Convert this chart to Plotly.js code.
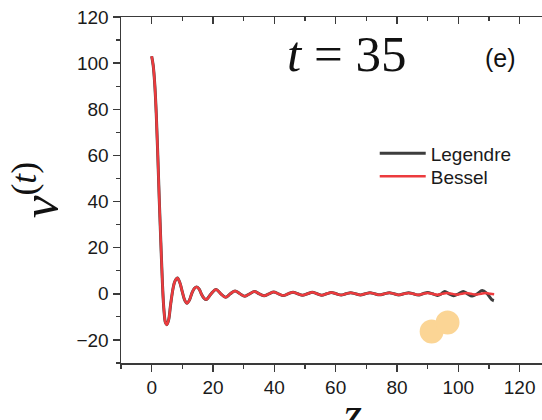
<!DOCTYPE html>
<html>
<head>
<meta charset="utf-8">
<script src="https://cdn.plot.ly/plotly-3.0.1.min.js"></script>
<style>
html,body{margin:0;padding:0;overflow:hidden;background:#fff;}
#chart{width:584px;height:440px;}
</style>
</head>
<body>
<div id="chart"></div>
<script>
// Bessel (red) series
var besselX = [0, 0.5, 1, 1.5, 2, 2.5, 3, 3.5, 4, 4.5, 4.9, 5.5, 6.2, 7.0, 7.6, 8.4, 9.2, 10.0, 10.8, 11.5, 12.3, 13.1, 13.9, 14.7, 15.5, 16.25, 17.0, 17.8, 19.4, 21.0, 22.55, 24.1, 25.65, 27.2, 28.8, 30.4, 31.95, 33.5, 35.1, 36.7, 38.25, 39.8, 41.35, 42.9, 44.5, 46.1, 47.65, 49.2, 50.8, 52.4, 53.95, 55.5, 57.05, 58.6, 60.2, 61.8, 63.35, 64.9, 66.5, 68.1, 69.65, 71.2, 72.75, 74.3, 75.9, 77.5, 79.05, 80.6, 82.2, 83.8, 85.35, 86.9, 88.45, 90.0, 91.6, 93.2, 94.75, 96.3, 97.9, 99.5, 101.05, 102.6, 104.15, 105.7, 107.3, 108.9, 110.45, 111.7];
var besselY = [103, 99, 91, 78, 60, 40, 22, 5, -7, -12.5, -13.4, -11.5, -4.5, 2.5, 5.5, 6.8, 4.8, 0.8, -2.8, -4.1, -2.8, 0.2, 2.3, 3.0, 2.0, -0.2, -1.8, -2.5, 0, 1.9, 0, -1.5, 0, 1.25, 0, -1.05, 0, 0.95, 0, -0.85, 0, 0.8, 0, -0.75, 0, 0.7, 0, -0.65, 0, 0.62, 0, -0.6, 0, 0.55, 0, -0.55, 0, 0.5, 0, -0.5, 0, 0.45, 0, -0.45, 0, 0.42, 0, -0.42, 0, 0.4, 0, -0.4, 0, 0.38, 0, -0.38, 0, 0.36, 0, -0.36, 0, 0.35, 0, -0.35, 0, 0.33, 0, -0.2];

// Legendre (dark) series
var legendreX = [0, 0.5, 1, 1.5, 2, 2.5, 3, 3.5, 4, 4.5, 4.9, 5.5, 6.2, 7.0, 7.6, 8.4, 9.2, 10.0, 10.8, 11.5, 12.3, 13.1, 13.9, 14.7, 15.5, 16.25, 17.0, 17.8, 19.4, 21.0, 22.55, 24.1, 25.65, 27.2, 28.8, 30.4, 31.95, 33.5, 35.1, 36.7, 38.25, 39.8, 41.35, 42.9, 44.5, 46.1, 47.65, 49.2, 50.8, 52.4, 53.95, 55.5, 57.05, 58.6, 60.2, 61.8, 63.35, 64.9, 66.5, 68.1, 69.65, 71.2, 72.75, 74.3, 75.9, 77.5, 79.05, 80.6, 82.2, 83.8, 85.35, 86.9, 88.45, 90.0, 91.6, 93.2, 94.5, 95.6, 97.0, 98.5, 100.1, 101.6, 103.0, 104.5, 106.2, 107.8, 109.3, 110.3, 111.0, 111.6];
var legendreY = [103, 99, 91, 78, 60, 40, 22, 5, -7, -12.5, -13.4, -11.5, -4.5, 2.5, 5.5, 6.8, 4.8, 0.8, -2.8, -4.1, -2.8, 0.2, 2.3, 3.0, 2.0, -0.2, -1.8, -2.5, 0, 1.9, 0, -1.5, 0, 1.25, 0, -1.05, 0, 0.95, 0, -0.85, 0, 0.8, 0, -0.75, 0, 0.7, 0, -0.65, 0, 0.62, 0, -0.6, 0, 0.55, 0, -0.55, 0, 0.5, 0, -0.5, 0, 0.45, 0, -0.45, 0, 0.45, 0, -0.5, 0, 0.5, 0, -0.55, 0, 0.6, 0, -0.7, 0, 1.0, 0, -0.8, 0, 1.0, 0, -1.0, 0, 1.4, 0.2, -1.5, -2.6, -3.0];

var seriesNames = ["Legendre", "Bessel"];
var xTicks = [0, 20, 40, 60, 80, 100, 120, 140];
var yTicks = [-20, 0, 20, 40, 60, 80, 100, 120];

var axisColor = "#3a3a3a";
var tickFont = {family: "Liberation Sans, Arial, sans-serif", size: 19, color: "#1a1a1a"};
var legendFont = {family: "Liberation Sans, Arial, sans-serif", size: 19, color: "#1a1a1a"};

var traces = [
  {x: legendreX, y: legendreY, name: seriesNames[0], type: "scatter", mode: "lines", legend: "legend",
   line: {color: "#3d3d3d", width: 3, shape: "spline", smoothing: 1}},
  {x: besselX, y: besselY, name: seriesNames[1], type: "scatter", mode: "lines", legend: "legend2",
   line: {color: "#ec3b3e", width: 2.5, shape: "spline", smoothing: 1}},
  {x: [], y: [], xaxis: "x2", yaxis: "y", showlegend: false, hoverinfo: "skip", type: "scatter", mode: "lines"}
];

var layout = {
  width: 584, height: 440,
  margin: {l: 121, r: 0, t: 17, b: 77},
  paper_bgcolor: "#fff", plot_bgcolor: "#fff",
  showlegend: true,
  xaxis: {
    range: [-10, 141], tickvals: xTicks, ticktext: xTicks.map(String),
    showgrid: false, zeroline: false, showline: true, linecolor: axisColor, linewidth: 1.5,
    ticks: "outside", ticklen: 7, tickwidth: 1.5, tickcolor: axisColor,
    minor: {dtick: 10, tick0: 0, ticks: "outside", ticklen: 4, tickwidth: 1.2, tickcolor: axisColor},
    tickfont: tickFont,
    title: {text: "<i>z</i>", font: {family: "Liberation Serif, serif", size: 48, color: "#111"}, standoff: 0}
  },
  xaxis2: {
    overlaying: "x", side: "top", range: [-10, 141], tickvals: xTicks,
    showticklabels: false, showgrid: false, zeroline: false, showline: true,
    linecolor: axisColor, linewidth: 1.5,
    ticks: "inside", ticklen: 7, tickwidth: 1.5, tickcolor: axisColor,
    minor: {dtick: 10, tick0: 0, ticks: "inside", ticklen: 4, tickwidth: 1.2, tickcolor: axisColor}
  },
  yaxis: {
    range: [-30, 120], tickvals: yTicks, ticktext: yTicks.map(function(v){return v < 0 ? "\u2212" + Math.abs(v) : String(v);}),
    showgrid: false, zeroline: false, showline: true, linecolor: axisColor, linewidth: 1.5,
    ticks: "outside", ticklen: 7, tickwidth: 1.5, tickcolor: axisColor,
    minor: {dtick: 10, tick0: 0, ticks: "outside", ticklen: 4, tickwidth: 1.2, tickcolor: axisColor},
    tickfont: tickFont,
    title: {text: "<i>v</i><sup>(<i>t</i>)</sup>", font: {family: "Liberation Serif, serif", size: 51, color: "#111"}, standoff: 2}
  },
  legend: {
    x: 0.548, y: 0.661, xanchor: "left", yanchor: "top",
    bgcolor: "rgba(0,0,0,0)", borderwidth: 0, font: legendFont, itemwidth: 46
  },
  legend2: {
    x: 0.548, y: 0.594, xanchor: "left", yanchor: "top",
    bgcolor: "rgba(0,0,0,0)", borderwidth: 0, font: legendFont, itemwidth: 46
  },
  annotations: [
    {xref: "paper", yref: "paper", x: 0.488, y: 0.893, xanchor: "center", yanchor: "middle",
     text: "<i>t</i> = 35", showarrow: false,
     font: {family: "Liberation Serif, serif", size: 51, color: "#111"}},
    {xref: "paper", yref: "paper", x: 0.819, y: 0.8815, xanchor: "center", yanchor: "middle",
     text: "(e)", showarrow: false,
     font: {family: "Liberation Sans, Arial, sans-serif", size: 25, color: "#111"}}
  ],
  shapes: [
    {type: "circle", xref: "x", yref: "y", x0: 87.4, x1: 95.2, y0: -21.5, y1: -11.1,
     fillcolor: "#fbd595", line: {width: 0}, layer: "above"},
    {type: "circle", xref: "x", yref: "y", x0: 92.6, x1: 100.4, y0: -17.6, y1: -7.2,
     fillcolor: "#fbd595", line: {width: 0}, layer: "above"}
  ]
};

Plotly.newPlot("chart", traces, layout, {displayModeBar: false, staticPlot: true});
</script>
</body>
</html>
